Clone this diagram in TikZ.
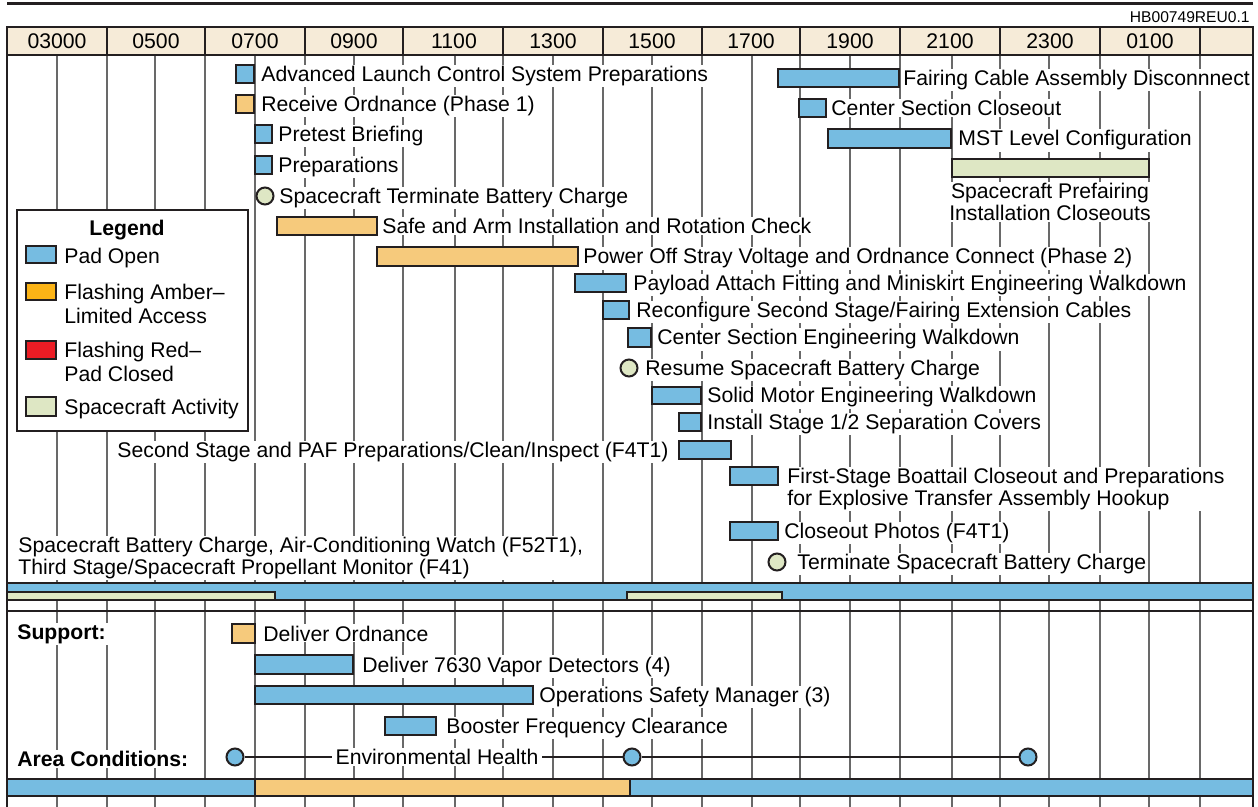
\documentclass[tikz,border=0pt]{standalone}
\usepackage{fontspec}
\setmainfont{Liberation Sans}
\definecolor{padblue}{RGB}{118,188,225}
\definecolor{ambbar}{RGB}{246,202,124}
\definecolor{ambleg}{RGB}{252,180,22}
\definecolor{redleg}{RGB}{236,28,36}
\definecolor{scgreen}{RGB}{222,231,196}
\definecolor{headbg}{RGB}{246,235,216}
\definecolor{gridc}{RGB}{105,105,105}
\definecolor{outl}{RGB}{35,31,32}
\newcommand\mainsz{\fontsize{10.6pt}{11pt}\selectfont}
\newcommand\legsz{\fontsize{10.6pt}{11.8pt}\selectfont}
\newcommand\ganttbar[6]{\node[#2,anchor=north west,minimum width={(#5-(#3))*0.5pt},minimum height={(#6-(#4))*0.5pt}] (#1) at (#3,#4) {};}
\begin{document}
\begin{tikzpicture}[x=0.5pt,y=-0.5pt,
  bx/.style={rectangle,draw=outl,line width=1pt,inner sep=0pt,outer sep=0pt},
  padbar/.style={bx,fill=padblue},
  ambar/.style={bx,fill=ambbar},
  scbar/.style={bx,fill=scgreen},
  legbox/.style={bx,fill=white,line width=0.8pt},
  evt/.style={circle,draw=outl,line width=1pt,inner sep=0pt,minimum size=8.5pt},
  lbl/.style={font=\mainsz,fill=white,inner xsep=1pt,inner ysep=0.6pt,anchor=base west},
  lbltwo/.style={lbl,align=left},
  blbl/.style={lbl,font=\mainsz\bfseries},
  hlbl/.style={font=\mainsz,inner sep=0pt,anchor=base},
  gridln/.style={draw=gridc,line width=0.65pt},
  border/.style={draw=outl,line width=1.4pt},
  envline/.style={draw=outl,line width=1pt}
]
\useasboundingbox (0,0) rectangle (1258,807);
% grid
\foreach \gx in {57,107,155,205,255,305,354,403,455,503,553,603,652,702,752,800,850,900,952,1000,1049,1100,1149,1200}
  \draw[gridln] (\gx,55) -- (\gx,807);
% top rule and id
\draw[outl,line width=1.5pt] (7,4) -- (1253,4);
\node[font=\fontsize{7.8pt}{9pt}\selectfont,inner sep=0pt,anchor=base east] (hbid) at (1250,22.6) {HB00749REU0.1};
% header
\draw[border,fill=headbg,line width=1pt] (7,27) rectangle (1253,55);
\foreach \hx in {107,205,305,403,503,603,702,800,900,1000,1100,1200}
  \draw[outl,line width=0.8pt] (\hx,27) -- (\hx,55);
\node[hlbl] (h1) at (57,48.5) {03000};
\node[hlbl] (h2) at (156,48.5) {0500};
\node[hlbl] (h3) at (255,48.5) {0700};
\node[hlbl] (h4) at (354,48.5) {0900};
\node[hlbl] (h5) at (454,48.5) {1100};
\node[hlbl] (h6) at (553,48.5) {1300};
\node[hlbl] (h7) at (652,48.5) {1500};
\node[hlbl] (h8) at (751,48.5) {1700};
\node[hlbl] (h9) at (850,48.5) {1900};
\node[hlbl] (h10) at (950,48.5) {2100};
\node[hlbl] (h11) at (1050,48.5) {2300};
\node[hlbl] (h12) at (1150,48.5) {0100};
% legend
\ganttbar{legend}{legbox}{17}{210}{248}{431}
\node[font=\mainsz\bfseries,inner sep=0pt,anchor=base] (legt) at (127,235.5) {Legend};
\ganttbar{lgpad}{padbar}{26}{246}{56}{263}
\ganttbar{lgamb}{bx,fill=ambleg}{26}{283}{56}{300}
\ganttbar{lgred}{bx,fill=redleg}{26}{341}{56}{359}
\ganttbar{lgsc}{scbar}{26}{397}{56}{416}
\node[lbl] (lt1) at (62,263.5) {Pad Open};
\node[lbltwo,font=\legsz] (lt2) at (62,323.5) {Flashing Amber–\\Limited Access};
\node[lbltwo,font=\legsz] (lt3) at (62,381.5) {Flashing Red–\\Pad Closed};
\node[lbl] (lt4) at (62,414.5) {Spacecraft Activity};
% upper tasks
\ganttbar{adv}{padbar}{236}{65}{254}{83}
\node[lbl] (tadv) at (259,81.5) {Advanced Launch Control System Preparations};
\ganttbar{rcv}{ambar}{236}{95}{254}{113}
\node[lbl] (trcv) at (259,111.5) {Receive Ordnance (Phase 1)};
\ganttbar{pre}{padbar}{255}{125}{272}{143}
\node[lbl] (tpre) at (276,141.5) {Pretest Briefing};
\ganttbar{prep}{padbar}{255}{156}{272}{174}
\node[lbl] (tprep) at (276,172.5) {Preparations};
\node[evt,fill=scgreen] (sat) at (265,196) {};
\node[lbl] (tsat) at (277,203.5) {Spacecraft Terminate Battery Charge};
\ganttbar{safe}{ambar}{277}{217}{377}{235}
\node[lbl] (tsafe) at (380,233.5) {Safe and Arm Installation and Rotation Check};
\ganttbar{pwr}{ambar}{377}{247}{578}{266}
\node[lbl] (tpwr) at (581,264) {Power Off Stray Voltage and Ordnance Connect (Phase 2)};
\ganttbar{fair}{padbar}{778}{69}{899}{87}
\node[lbl] (tfair) at (901,85.5) {Fairing Cable Assembly Disconnnect};
\ganttbar{csc}{padbar}{799}{99}{826}{117}
\node[lbl] (tcsc) at (829,115.5) {Center Section Closeout};
\ganttbar{mst}{padbar}{828}{129}{951}{148}
\node[lbl] (tmst) at (956,146) {MST Level Configuration};
\ganttbar{scp}{scbar}{952}{159}{1149}{177}
\node[lbl,align=center,anchor=base] (tscp) at (1050,220.5) {Spacecraft Prefairing\\Installation Closeouts};
\ganttbar{pay}{padbar}{575}{274}{626}{292}
\node[lbl] (tpay) at (631,290.5) {Payload Attach Fitting and Miniskirt Engineering Walkdown};
\ganttbar{rec}{padbar}{603}{301}{629}{319}
\node[lbl] (trec) at (634,317.5) {Reconfigure Second Stage/Fairing Extension Cables};
\ganttbar{cse}{padbar}{628}{328}{651}{347}
\node[lbl] (tcse) at (655,345) {Center Section Engineering Walkdown};
\node[evt,fill=scgreen] (res) at (629,368) {};
\node[lbl] (tres) at (643,375.5) {Resume Spacecraft Battery Charge};
\ganttbar{solid}{padbar}{652}{387}{701}{404}
\node[lbl] (tsolid) at (705,403) {Solid Motor Engineering Walkdown};
\ganttbar{inst}{padbar}{679}{413}{701}{431}
\node[lbl] (tinst) at (705,429.5) {Install Stage 1/2 Separation Covers};
\ganttbar{sec}{padbar}{679}{441}{731}{459}
\node[lbl,anchor=base east] (tsec) at (671,457.5) {Second Stage and PAF Preparations/Clean/Inspect (F4T1)};
\ganttbar{first}{padbar}{730}{467}{778}{485}
\node[lbltwo] (tfirst) at (785,505.5) {First-Stage Boattail Closeout and Preparations\\for Explosive Transfer Assembly Hookup};
\ganttbar{photo}{padbar}{730}{522}{778}{540}
\node[lbl] (tphoto) at (782,538.5) {Closeout Photos (F4T1)};
\node[evt,fill=scgreen] (term) at (777,562) {};
\node[lbl] (tterm) at (795,569.5) {Terminate Spacecraft Battery Charge};
\node[lbltwo] (tscb) at (16,574.5) {Spacecraft Battery Charge, Air-Conditioning Watch (F52T1),\\Third Stage/Spacecraft Propellant Monitor (F41)};
% pad status bar
\ganttbar{padall}{padbar}{7}{583}{1253}{600}
\ganttbar{scg1}{scbar}{7}{592}{275}{600}
\ganttbar{scg2}{scbar}{627}{592}{782}{600}
\draw[outl,line width=1pt] (7,611) -- (1253,611);
% support
\node[blbl] (tsup) at (15,639.5) {Support:};
\ganttbar{dord}{ambar}{232}{624}{255}{643}
\node[lbl] (tdord) at (261,641) {Deliver Ordnance};
\ganttbar{dvap}{padbar}{255}{655}{353}{674}
\node[lbl] (tdvap) at (360,672) {Deliver 7630 Vapor Detectors (4)};
\ganttbar{ops}{padbar}{255}{686}{533}{704}
\node[lbl] (tops) at (537,702.5) {Operations Safety Manager (3)};
\ganttbar{boost}{padbar}{385}{717}{436}{735}
\node[lbl] (tboost) at (444,733.5) {Booster Frequency Clearance};
% area conditions
\node[blbl] (tarea) at (15,766.5) {Area Conditions:};
\node[evt,fill=padblue] (env1) at (235,757) {};
\node[evt,fill=padblue] (env2) at (632,757) {};
\node[evt,fill=padblue] (env3) at (1028,757) {};
\draw[envline] (env1) -- (env2);
\draw[envline] (env2) -- (env3);
\node[lbl,anchor=base,inner xsep=2pt] (tenv) at (437,764.5) {Environmental Health};
\ganttbar{bot1}{padbar}{7}{779}{255}{796}
\ganttbar{bot2}{ambar}{255}{779}{630}{796}
\ganttbar{bot3}{padbar}{630}{779}{1253}{796}
% frame sides
\draw[border] (7,27) -- (7,807);
\draw[border] (1253,27) -- (1253,807);
\end{tikzpicture}
\end{document}
